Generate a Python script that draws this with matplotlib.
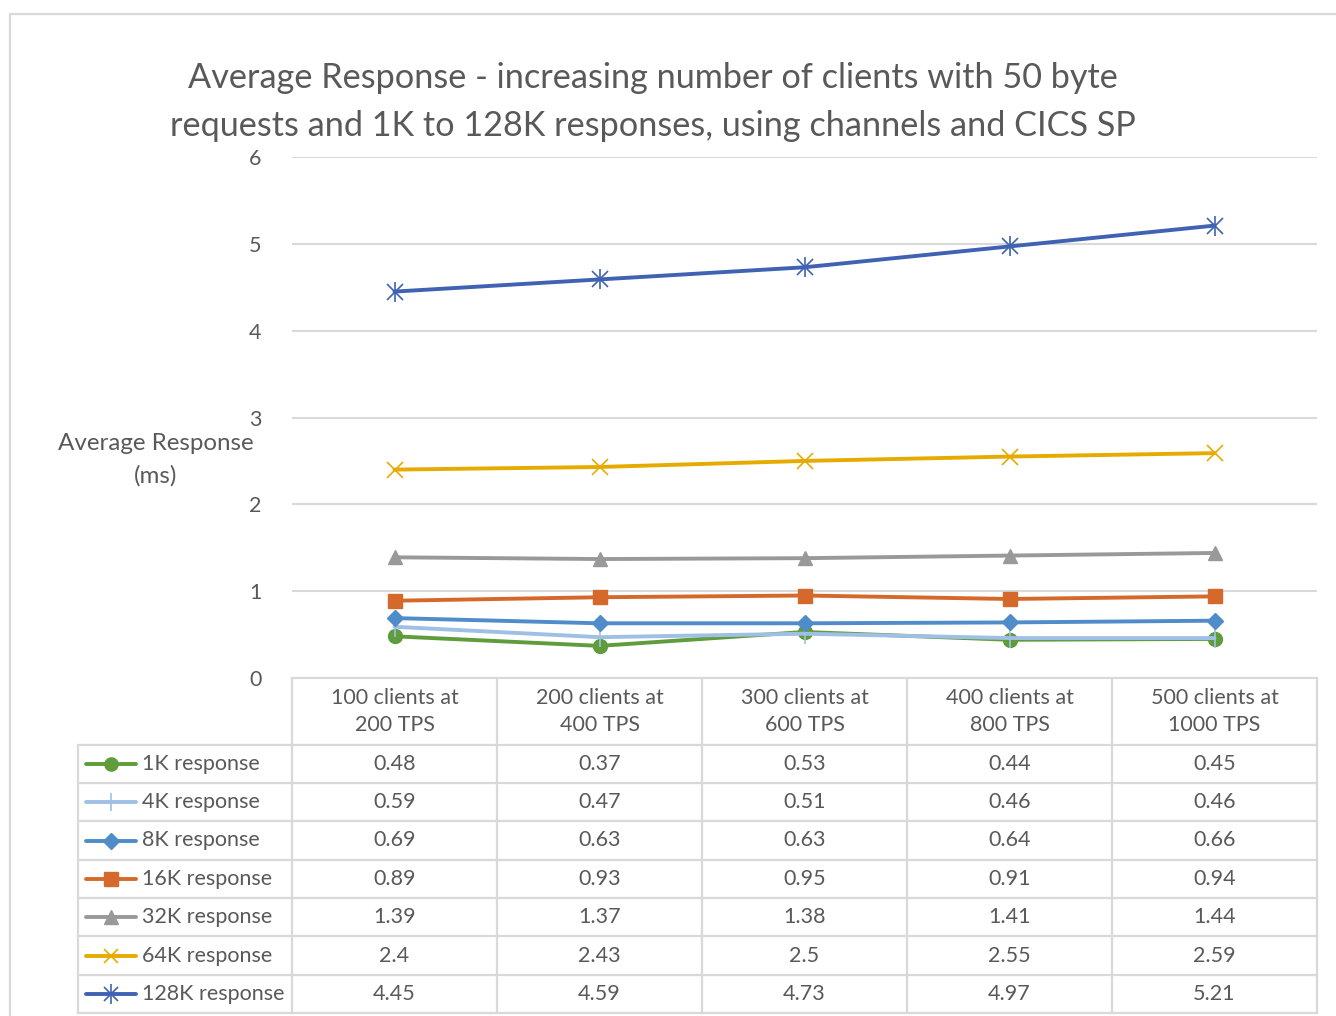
import matplotlib
matplotlib.use("Agg")
import matplotlib.pyplot as plt

# average response times (ms) for each response size
categories = ["100 clients at\n200 TPS", "200 clients at\n400 TPS", "300 clients at\n600 TPS",
              "400 clients at\n800 TPS", "500 clients at\n1000 TPS"]
series_names = ["1K response", "4K response", "8K response", "16K response",
                "32K response", "64K response", "128K response"]
resp_1k = [0.48, 0.37, 0.53, 0.44, 0.45]
resp_4k = [0.59, 0.47, 0.51, 0.46, 0.46]
resp_8k = [0.69, 0.63, 0.63, 0.64, 0.66]
resp_16k = [0.89, 0.93, 0.95, 0.91, 0.94]
resp_32k = [1.39, 1.37, 1.38, 1.41, 1.44]
resp_64k = [2.4, 2.43, 2.5, 2.55, 2.59]
resp_128k = [4.45, 4.59, 4.73, 4.97, 5.21]
value_labels = [
    ["0.48", "0.37", "0.53", "0.44", "0.45"],
    ["0.59", "0.47", "0.51", "0.46", "0.46"],
    ["0.69", "0.63", "0.63", "0.64", "0.66"],
    ["0.89", "0.93", "0.95", "0.91", "0.94"],
    ["1.39", "1.37", "1.38", "1.41", "1.44"],
    ["2.4", "2.43", "2.5", "2.55", "2.59"],
    ["4.45", "4.59", "4.73", "4.97", "5.21"],
]
all_series = [resp_1k, resp_4k, resp_8k, resp_16k, resp_32k, resp_64k, resp_128k]

styles = [
    dict(color="#5f9c3c", marker="o", markersize=10),
    dict(color="#9fc0e4", marker="|", markersize=14, markeredgewidth=1.2),
    dict(color="#4f8cc9", marker="D", markersize=8.5),
    dict(color="#d5692b", marker="s", markersize=10),
    dict(color="#999999", marker="^", markersize=10),
    dict(color="#e6ab00", marker="x", markersize=11, markeredgewidth=1.2),
    dict(color="#3f62b3", marker="x", markersize=11, markeredgewidth=1.2),
]

plt.rcParams["font.family"] = ["Lato", "DejaVu Sans"]
TXT = "#595959"
GRID = "#d9d9d9"
FS = 15.5

W, H = 1336, 1016
fig = plt.figure(figsize=(W / 100, H / 100), dpi=100)

# main line chart
x0, x1, ytop, ybot = 292, 1317, 157, 678
ax = fig.add_axes([x0 / W, 1 - ybot / H, (x1 - x0) / W, (ybot - ytop) / H])
xs = list(range(len(categories)))
for i, (vals, st) in enumerate(zip(all_series, styles)):
    ax.plot(xs, vals, linewidth=2.8, solid_capstyle="round", zorder=3 + i, **st)
    if i == 6:
        # star marker: x plus vertical stroke
        ax.plot(xs, vals, linestyle="none", marker="|", markersize=15,
                markeredgewidth=1.2, color=st["color"], zorder=3 + i)
ax.set_xlim(-0.5, len(categories) - 0.5)
ax.set_ylim(0, 6)
ax.set_yticks(range(7))
ax.set_xticks([])
ax.grid(axis="y", color=GRID, linewidth=1.5)
ax.set_axisbelow(True)
for s in ["top", "right", "left"]:
    ax.spines[s].set_visible(False)
ax.spines["bottom"].set_color(GRID)
ax.spines["bottom"].set_linewidth(1.5)
ax.tick_params(axis="y", length=0, pad=22, labelsize=FS, labelcolor=TXT)

fig.text(653 / W, 1 - 102 / H,
         "Average Response - increasing number of clients with 50 byte\n"
         "requests and 1K to 128K responses, using channels and CICS SP",
         ha="center", va="center", fontsize=24.7, color=TXT, linespacing=1.6)
fig.text(156 / W, 1 - 460 / H, "Average Response\n(ms)", ha="center", va="center",
         fontsize=17.4, color=TXT, linespacing=1.6)

# data table underneath, drawn in pixel coordinates
tab = fig.add_axes([0, 0, 1, 1], facecolor="none")
tab.set_xlim(0, W)
tab.set_ylim(H, 0)
tab.axis("off")

col_w = (x1 - x0) / len(categories)
col_edges = [x0 + k * col_w for k in range(len(categories) + 1)]
row_edges = [745, 783, 821, 860, 898, 936, 975, 1013]
lw = 1.6
for xe in col_edges:
    tab.plot([xe, xe], [ybot, row_edges[-1]], color=GRID, lw=lw)
tab.plot([78, 78], [row_edges[0], row_edges[-1]], color=GRID, lw=lw)
for ye in row_edges:
    tab.plot([78, x1], [ye, ye], color=GRID, lw=lw)

for k, cat in enumerate(categories):
    cx = (col_edges[k] + col_edges[k + 1]) / 2
    tab.text(cx, (ybot + row_edges[0]) / 2, cat, ha="center", va="center",
             fontsize=FS, color=TXT, linespacing=1.47)

for r, (name, st, labels) in enumerate(zip(series_names, styles, value_labels)):
    cy = (row_edges[r] + row_edges[r + 1]) / 2
    tab.plot([86, 136], [cy, cy], color=st["color"], lw=2.8, solid_capstyle="round")
    mk = dict(st)
    mk["markersize"] = st["markersize"] * 0.95
    tab.plot([111], [cy], linestyle="none", **mk)
    if r == 6:
        tab.plot([111], [cy], linestyle="none", marker="|", markersize=14,
                 markeredgewidth=1.2, color=st["color"])
    tab.text(142, cy, name, ha="left", va="center", fontsize=FS, color=TXT)
    for k, lab in enumerate(labels):
        cx = (col_edges[k] + col_edges[k + 1]) / 2
        tab.text(cx, cy, lab, ha="center", va="center", fontsize=FS, color=TXT)

# chart area border
tab.plot([10, 10, W], [H, 14, 14], color=GRID, lw=1.6)

fig.savefig("out.png", dpi=100, facecolor="white")
